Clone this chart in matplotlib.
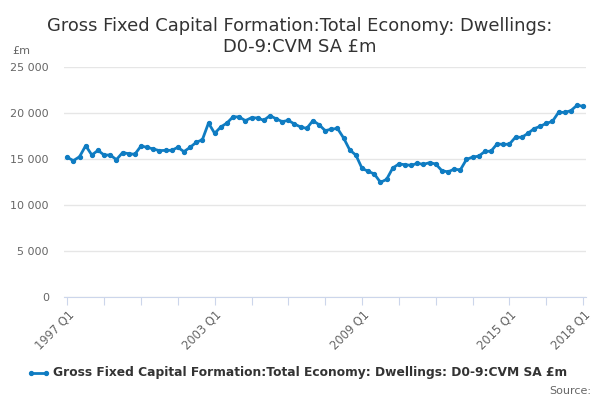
import matplotlib
matplotlib.use("Agg")
import matplotlib.pyplot as plt
import numpy as np

title = "Gross Fixed Capital Formation:Total Economy: Dwellings:\nD0-9:CVM SA £m"
series_name = "Gross Fixed Capital Formation:Total Economy: Dwellings: D0-9:CVM SA £m"
start_year = 1997
values = [
    15180, 14820, 15250, 16450, 15430, 15940, 15430, 15430, 14930, 15690,
    15580, 15510, 16410, 16270, 16090, 15910, 15940, 15940, 16270, 15800,
    16270, 16810, 17100, 18910, 17790, 18480, 18910, 19590, 19570, 19170,
    19490, 19460, 19200, 19710, 19380, 19060, 19200, 18800, 18480, 18330,
    19170, 18730, 18080, 18240, 18320, 17280, 15980, 15420, 13980, 13660,
    13370, 12460, 12790, 14020, 14460, 14380, 14310, 14530, 14420, 14600,
    14460, 13730, 13600, 13900, 13810, 14950, 15210, 15310, 15820, 15850,
    16650, 16580, 16620, 17380, 17350, 17780, 18290, 18550, 18870, 19090,
    20070, 20070, 20250, 20840, 20730,
]
labels = [f"{start_year + i // 4} Q{i % 4 + 1}" for i in range(len(values))]
yticks = [0, 5000, 10000, 15000, 20000, 25000]
ytick_labels = ["0", "5 000", "10 000", "15 000", "20 000", "25 000"]
label_idx = [0, 24, 48, 72, 84]
minor_idx = list(range(0, 85, 6))

plt.rcParams['font.family'] = ['DejaVu Sans']
fig = plt.figure(figsize=(6, 4), dpi=100)
ax = fig.add_axes([0.107, 0.2575, 0.870, 0.575])
x = np.arange(len(values))
color = "#0f7cc2"
ax.plot(x, values, color=color, lw=2, marker='o', ms=2.8, zorder=3)
ax.set_xlim(-0.5, 84.5)
ax.set_ylim(0, 25000)
ax.set_yticks(yticks)
ax.set_yticklabels(ytick_labels, fontsize=8, color="#666666")
ax.grid(axis='y', color="#e6e6e6", lw=1)
ax.set_axisbelow(True)
for s in ['top', 'right', 'left']:
    ax.spines[s].set_visible(False)
ax.spines['bottom'].set_color("#ccd6eb")
ax.tick_params(axis='y', length=0, pad=11)
ax.set_xticks(minor_idx)
ax.set_xticklabels([labels[i] if i in label_idx else "" for i in minor_idx],
                   rotation=45, ha='right', rotation_mode='anchor',
                   fontsize=8.3, color="#666666")
ax.tick_params(axis='x', length=6, color="#ccd6eb", pad=2)

fig.text(0.5, 0.958, title, ha='center', va='top', fontsize=12.9,
         color="#333333", linespacing=1.2)
fig.text(0.02, 0.86, "£m", fontsize=8, color="#666666", va='bottom')

# legend
lx0, lx1, ly = 0.052, 0.077, 0.068
fig.lines.append(plt.Line2D([lx0, lx1], [ly, ly], transform=fig.transFigure,
                            color=color, lw=2, marker='o', ms=2.8))
fig.text(0.088, ly, series_name, fontsize=8.8, fontweight='bold',
         color="#333333", va='center')
fig.text(0.985, 0.022, "Source:", fontsize=8, color="#666666", ha='right', va='center')

fig.savefig("out.png", dpi=100)
